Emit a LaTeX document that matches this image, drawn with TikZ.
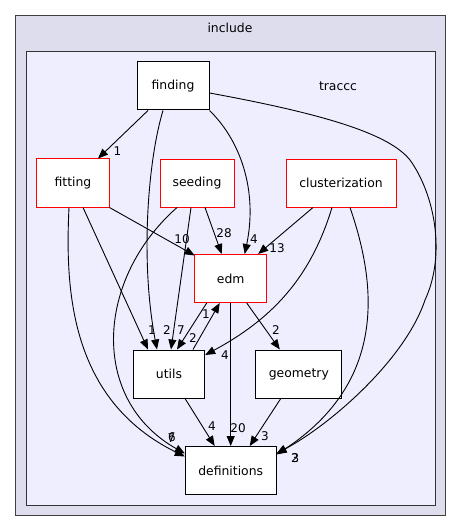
\documentclass[tikz,border=0pt]{standalone}
\usepackage{fontspec}
\setmainfont{DejaVu Sans}
\usetikzlibrary{arrows.meta}
\definecolor{outerfill}{HTML}{DDDDEE}
\definecolor{innerfill}{HTML}{EEEEFF}
\definecolor{frame}{HTML}{404040}
\definecolor{dirred}{HTML}{FF0000}
\tikzset{
  dirbox/.style={draw=black, fill=white, line width=1pt, inner sep=0pt, minimum height=48pt, font=\fontsize{12.4}{14}\selectfont},
  redbox/.style={fill=white, line width=1pt, inner sep=0pt, minimum height=48pt, font=\fontsize{12.4}{14}\selectfont, draw=dirred},
  redframe/.style={draw=dirred, line width=1pt},
  dep/.style={line width=0.9pt, -{Triangle[length=10pt,width=8pt]}},
  lbl/.style={inner sep=0pt, font=\fontsize{12}{13}\selectfont},
  clabel/.style={inner sep=0pt, font=\fontsize{12.4}{14}\selectfont}
}
\begin{document}
\begin{tikzpicture}[x=1pt,y=-1pt]
\useasboundingbox (0,0) rectangle (461,532);
\fill[white] (0,0) rectangle (461,532);
% clusters
\draw[draw=frame, fill=outerfill, line width=1pt] (15.5,15.5) rectangle (445,515.5);
\node[clabel] (inc) at (230,27.5) {include};
\draw[draw=frame!80!black, fill=innerfill, line width=1pt] (26.5,52) rectangle (435,505);
\node[clabel] (trc) at (338,86) {traccc};
% nodes
\node[dirbox, minimum width=72pt] (finding) at (173,86) {finding};
\node[redbox, draw=none, minimum width=72pt] (fitdir) at (73,183) {fitting};
\draw[redframe] (fitdir.south west) rectangle (fitdir.north east);
\node[redbox, minimum width=74pt] (seeding) at (197,183) {seeding};
\node[redbox, minimum width=110pt] (cluster) at (341,183) {clusterization};
\node[redbox, minimum width=72pt] (edm) at (230.7,278.5) {edm};
\node[dirbox, minimum width=71.4pt] (utils) at (169,374) {utils};
\node[dirbox, minimum width=85.7pt] (geometry) at (298.8,374) {geometry};
\node[dirbox, minimum width=90.7pt] (defs) at (230.7,470.5) {definitions};
% straight edges
\draw[dep] ([xshift=-25pt]finding.south) -- ([xshift=25pt]fitdir.north);
\draw[dep] (fitdir.south east) -- ([xshift=-36pt,yshift=-1.5pt]edm.north);
\draw[dep] ([xshift=10pt]fitdir.south) -- ([xshift=-21pt]utils.north);
\draw[dep] ([xshift=8pt]seeding.south) -- ([xshift=-9pt]edm.north);
\draw[dep] ([xshift=-6pt]seeding.south) -- ([xshift=2pt]utils.north);
\draw[dep] ([xshift=-28pt]cluster.south) -- ([xshift=27.5pt]edm.north);
\draw[dep] ([xshift=-24pt]edm.south) -- ([xshift=8pt]utils.north);
\draw[dep] ([xshift=24pt]utils.north) -- ([xshift=-11pt]edm.south);
\draw[dep] ([xshift=16pt]edm.south) -- ([xshift=-19pt]geometry.north);
\draw[dep] (edm.south) -- (defs.north);
\draw[dep] ([xshift=16pt]utils.south) -- ([xshift=-16pt]defs.north);
\draw[dep] ([xshift=-18pt]geometry.south) -- ([xshift=19pt]defs.north);
% curved edges
\draw[dep] ([xshift=-10pt]finding.south) .. controls (148,160) and (140,260) .. ([xshift=-12pt]utils.north);
\draw[dep] (finding.south east) .. controls (240,140) and (258,190) .. ([xshift=14pt]edm.north);
\draw[dep] ([yshift=-7pt]finding.east) .. controls (330,115) and (390,135) .. (410,160)
   .. controls (435,195) and (446,255) .. (425,300)
   .. controls (405,360) and (330,425) .. ([yshift=17pt]defs.east);
\draw[dep] ([xshift=-4pt]fitdir.south) .. controls (65,290) and (70,400) .. ([yshift=14pt]defs.west);
\draw[dep] ([xshift=-20pt]seeding.south) .. controls (95,280) and (90,400) .. ([yshift=17pt]defs.west);
\draw[dep] ([xshift=-9pt]cluster.south) .. controls (310,280) and (270,320) .. ([yshift=19pt]utils.east);
\draw[dep] ([xshift=9pt]cluster.south) .. controls (375,280) and (390,380) .. ([yshift=16pt]defs.east);
% labels
\node[lbl] (l1) at (117.5,151) {1};
\node[lbl] (l2) at (182,239) {10};
\node[lbl] (l3) at (152,330) {1};
\node[lbl] (l4) at (167,330) {2};
\node[lbl] (l5) at (181,330) {7};
\node[lbl] (l6) at (193,338) {2};
\node[lbl] (l7) at (206,314) {1};
\node[lbl] (l8) at (224,233) {28};
\node[lbl] (l9) at (254,239) {4};
\node[lbl] (l10) at (277,248) {13};
\node[lbl] (l11) at (225,355) {4};
\node[lbl] (l12) at (276,330) {2};
\node[lbl] (l13) at (238,428) {20};
\node[lbl] (l14) at (212,426) {4};
\node[lbl] (l15) at (265,436) {3};
\node[lbl] (l16) at (172,437) {6};
\node[lbl] (l17) at (171.5,438) {7};
\node[lbl] (l18) at (295,458) {2};
\node[lbl] (l19) at (295.5,458) {3};
\end{tikzpicture}
\end{document}
